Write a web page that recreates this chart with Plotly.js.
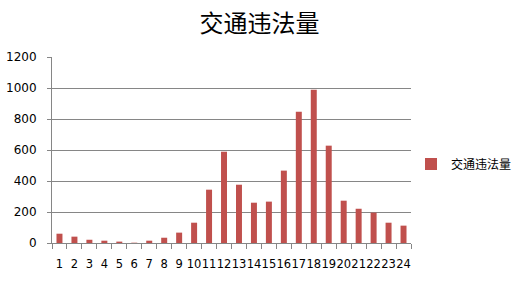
<!DOCTYPE html>
<html><head><meta charset="utf-8">
<script src="https://cdn.plot.ly/plotly-3.0.1.min.js"></script>
<style>html,body{margin:0;padding:0;background:#fff}</style>
</head><body><div id="chart" style="width:519px;height:285px"></div>
<script>
const hours = ['1','2','3','4','5','6','7','8','9','10','11','12','13','14','15','16','17','18','19','20','21','22','23','24'];
const violations = [60,41,21,15,9,2,15,34,67,131,344,589,376,260,267,467,847,989,628,273,221,196,131,112];
const seriesName = '交通违法量';
const chartTitle = '交通违法量';

const trace = {
  type: 'bar', x: hours, y: violations, name: seriesName,
  marker: {color: '#C0504D'}, showlegend: true
};
const layout = {
  width: 519, height: 285,
  margin: {l: 52, r: 108, t: 57, b: 42, autoexpand: false},
  paper_bgcolor: '#fff', plot_bgcolor: '#fff',
  font: {family: 'DejaVu Sans, sans-serif', size: 11, color: '#000'},
  title: {text: chartTitle, x: 0.5, xref: 'container', xanchor: 'center', y: 1 - 24/285, yref: 'container', yanchor: 'middle',
          font: {family: 'Noto Sans CJK SC', size: 24, color: '#000'}},
  bargap: 0.6,
  xaxis: {type: 'category', showgrid: false, showline: true, linecolor: '#868686', linewidth: 1,
          tickmode: 'array', tickvals: hours, ticktext: hours, tickangle: 0, automargin: false,
          ticks: 'outside', tickson: 'boundaries', ticklen: 5, tickcolor: '#868686',
          ticklabelstandoff: 10, tickfont: {size: 11.5}},
  yaxis: {range: [0, 1200], dtick: 200, showgrid: true, gridcolor: '#868686', gridwidth: 1,
          showline: true, linecolor: '#868686', ticks: 'outside', ticklen: 4, tickcolor: '#868686',
          zeroline: false, ticklabelstandoff: 8, tickfont: {size: 12}, automargin: false},
  legend: {x: 1.0, xanchor: 'left', y: 0.425, yanchor: 'middle',
           font: {family: 'Noto Sans CJK SC', size: 12, color: '#000'}, itemwidth: 30}
};
Plotly.newPlot('chart', [trace], layout, {displayModeBar: false, staticPlot: true});
</script></body></html>
